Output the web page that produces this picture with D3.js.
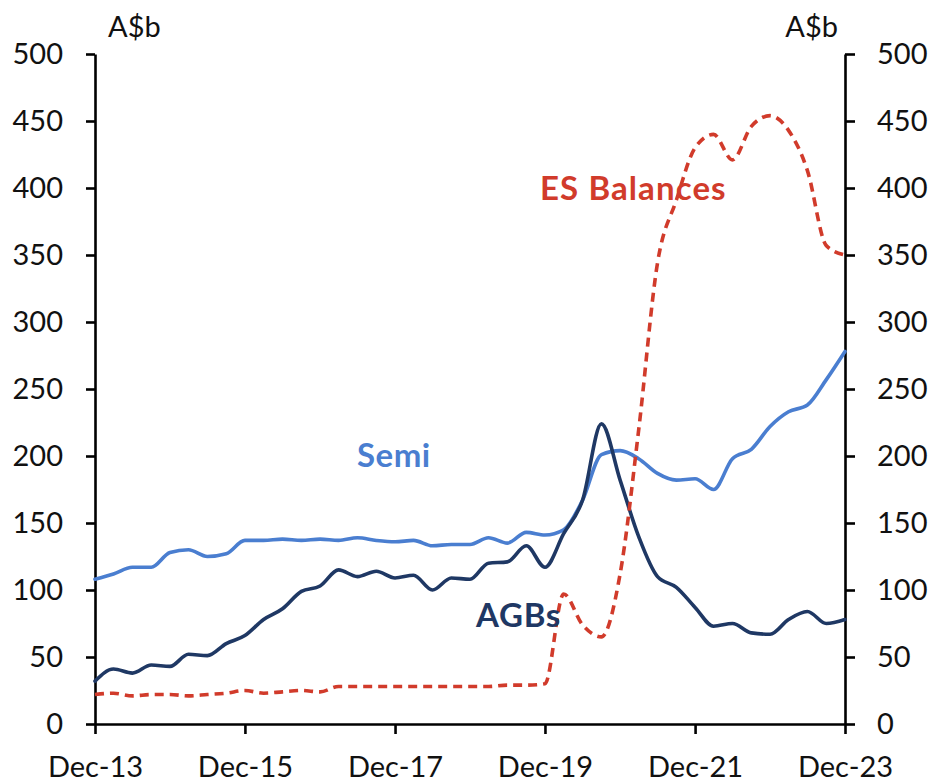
<!DOCTYPE html>
<html>
<head>
<meta charset="utf-8">
<script src="https://cdn.jsdelivr.net/npm/d3@7"></script>
<style>
  html, body { margin: 0; padding: 0; background: #fff; }
  svg { display: block; }
  text { font-family: Lato, "Open Sans", sans-serif; }
</style>
</head>
<body>
<svg id="chart" width="933" height="782"></svg>
<script>
// Quarterly observations, Dec-13 to Dec-23 (A$b)
const quarters = [
  "2013-12","2014-03","2014-06","2014-09","2014-12","2015-03","2015-06","2015-09","2015-12",
  "2016-03","2016-06","2016-09","2016-12","2017-03","2017-06","2017-09","2017-12",
  "2018-03","2018-06","2018-09","2018-12","2019-03","2019-06","2019-09","2019-12",
  "2020-03","2020-06","2020-09","2020-12","2021-03","2021-06","2021-09","2021-12",
  "2022-03","2022-06","2022-09","2022-12","2023-03","2023-06","2023-09","2023-12"
];

const semiValues = [
  108, 112, 117, 117, 128, 130, 125, 127, 137,
  137, 138, 137, 138, 137, 139, 137, 136,
  137, 133, 134, 134, 139, 135, 143, 141,
  145, 167, 201, 204, 198, 187, 182, 183,
  175, 198, 205, 222, 233, 238, 257, 278
];

const agbValues = [
  32, 41, 38, 44, 43, 52, 51, 60, 66,
  78, 86, 99, 103, 115, 110, 114, 109,
  111, 100, 109, 108, 120, 121, 133, 117,
  142, 167, 224, 182, 140, 110, 102, 87,
  73, 75, 68, 67, 78, 84, 75, 78
];

const esBalanceValues = [
  22, 23, 21, 22, 22, 21, 22, 23, 25,
  23, 24, 25, 24, 28, 28, 28, 28,
  28, 28, 28, 28, 28, 29, 29, 30,
  97, 74, 65, 112, 219, 344, 391, 430,
  440, 421, 446, 454, 443, 413, 357, 350
];

const xTickLabels = ["Dec-13","Dec-15","Dec-17","Dec-19","Dec-21","Dec-23"];
const yTickValues = [0, 50, 100, 150, 200, 250, 300, 350, 400, 450, 500];
const unitLabel = "A$b";

const seriesLabels = [
  { name: "Semi", key: "semi" },
  { name: "AGBs", key: "agb" },
  { name: "ES Balances", key: "es" }
];

const colors = { semi: "#4A7ED0", agb: "#1F3864", es: "#D13B2B" };

const parseMonth = d3.timeParse("%Y-%m");
const parseTick = d3.timeParse("%b-%y");
const dates = quarters.map(parseMonth);

const svg = d3.select("#chart");
const plotLeft = 95, plotRight = 845, plotTop = 54, plotBottom = 724;

const x = d3.scaleTime()
  .domain([parseMonth("2013-12"), parseMonth("2023-12")])
  .range([plotLeft, plotRight]);
const y = d3.scaleLinear().domain([0, 500]).range([plotBottom, plotTop]);

const fontSize = 29;

// Axes
const axisLeft = d3.axisLeft(y).tickValues(yTickValues).tickSize(9).tickSizeOuter(0).tickPadding(23);
const axisRight = d3.axisRight(y).tickValues(yTickValues).tickSize(10).tickSizeOuter(0).tickPadding(22);
const axisBottom = d3.axisBottom(x)
  .tickValues(xTickLabels.map(parseTick))
  .tickFormat(d3.timeFormat("%b-%y"))
  .tickSize(10).tickSizeOuter(0).tickPadding(22);

function styleAxis(g) {
  g.selectAll(".domain").attr("stroke", "#000").attr("stroke-width", 2.6);
  g.selectAll(".tick line").attr("stroke", "#000").attr("stroke-width", 2.6);
  g.selectAll(".tick text")
    .attr("fill", "#111")
    .style("font-family", "Lato, 'Open Sans', sans-serif")
    .style("font-size", fontSize + "px");
  g.attr("font-family", null).attr("font-size", null);
}

svg.append("g").attr("transform", `translate(0,${plotBottom})`).call(axisBottom).call(styleAxis);
svg.append("g").attr("transform", `translate(${plotLeft},0)`).call(axisLeft).call(styleAxis);
svg.append("g").attr("transform", `translate(${plotRight},0)`).call(axisRight).call(styleAxis);

// Unit labels
svg.append("text").attr("x", 108).attr("y", 37)
  .attr("fill", "#111").style("font-size", fontSize + "px").text(unitLabel);
svg.append("text").attr("x", 838).attr("y", 37).attr("text-anchor", "end")
  .attr("fill", "#111").style("font-size", fontSize + "px").text(unitLabel);

// Series lines
const line = d3.line()
  .x((d, i) => x(dates[i]))
  .y(d => y(d))
  .curve(d3.curveMonotoneX);

svg.append("path").datum(semiValues)
  .attr("fill", "none").attr("stroke", colors.semi).attr("stroke-width", 3.6)
  .attr("stroke-linejoin", "round").attr("stroke-linecap", "round")
  .attr("d", line);

svg.append("path").datum(agbValues)
  .attr("fill", "none").attr("stroke", colors.agb).attr("stroke-width", 3.6)
  .attr("stroke-linejoin", "round").attr("stroke-linecap", "round")
  .attr("d", line);

svg.append("path").datum(esBalanceValues)
  .attr("fill", "none").attr("stroke", colors.es).attr("stroke-width", 3.6)
  .attr("stroke-dasharray", "9,6")
  .attr("d", line);

// Series labels placed beside their lines
const labelPos = {
  semi: { x: 357, y: 467, spacing: 0.5 },
  agb: { x: 476, y: 627, spacing: 0.8 },
  es: { x: 540, y: 200, spacing: 1.1 }
};
seriesLabels.forEach(s => {
  svg.append("text")
    .attr("x", labelPos[s.key].x).attr("y", labelPos[s.key].y)
    .attr("fill", colors[s.key])
    .style("font-weight", 700)
    .style("font-size", "33px")
    .style("letter-spacing", labelPos[s.key].spacing + "px")
    .text(s.name);
});
</script>
</body>
</html>
